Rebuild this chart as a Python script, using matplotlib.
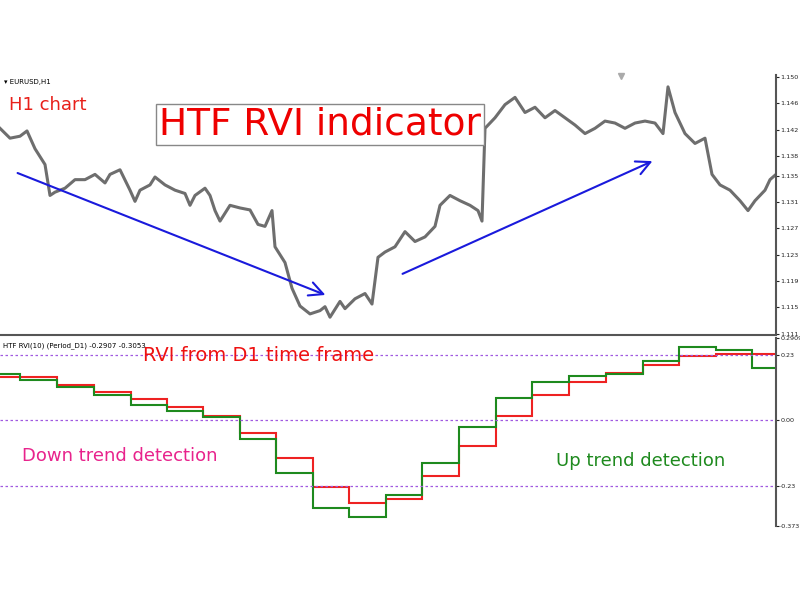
import matplotlib.pyplot as plt

# ---------------------------
# Data
# ---------------------------
bar = [0, 10, 20, 27, 35, 45, 50, 55, 65, 75, 85, 95, 105, 110, 120, 130, 135, 140, 150, 155,
       165, 175, 185, 190, 195, 205, 210, 215, 220, 230, 240, 250, 258, 265, 272, 275, 285, 292,
       300, 310, 320, 325, 330, 340, 345, 355, 365, 372, 378, 385, 395, 405, 415, 425, 435, 440,
       450, 460, 470, 478, 482, 485, 495, 505, 515, 525, 535, 545, 555, 565, 575, 585, 595, 605,
       615, 625, 635, 645, 655, 663, 668, 675, 685, 695, 705, 712, 720, 730, 740, 748, 755, 765,
       770, 776]
price = [1.1422, 1.1407, 1.1410, 1.1418, 1.1391, 1.1367, 1.1320, 1.1325, 1.1331, 1.1344, 1.1344,
         1.1352, 1.1339, 1.1352, 1.1359, 1.1328, 1.1311, 1.1328, 1.1336, 1.1348, 1.1336, 1.1328,
         1.1323, 1.1305, 1.1320, 1.1331, 1.1320, 1.1297, 1.1281, 1.1305, 1.1301, 1.1298, 1.1276,
         1.1273, 1.1297, 1.1242, 1.1218, 1.1179, 1.1152, 1.1140, 1.1145, 1.1151, 1.1135, 1.1159,
         1.1148, 1.1163, 1.1171, 1.1155, 1.1226, 1.1234, 1.1242, 1.1265, 1.1250, 1.1257, 1.1273,
         1.1305, 1.1320, 1.1312, 1.1305, 1.1297, 1.1281, 1.1422, 1.1438, 1.1458, 1.1469, 1.1446,
         1.1454, 1.1438, 1.1449, 1.1438, 1.1427, 1.1414, 1.1422, 1.1433, 1.1430, 1.1422, 1.1430,
         1.1433, 1.1430, 1.1414, 1.1485, 1.1446, 1.1414, 1.1399, 1.1407, 1.1352, 1.1336, 1.1328,
         1.1312, 1.1297, 1.1312, 1.1328, 1.1344, 1.1352]

# D1 step edges (in H1 bar units) and RVI values per step
step_edges = [0, 20, 57, 94, 131, 167, 203, 240, 276, 313, 349, 386, 422, 459, 496, 532, 569,
              606, 643, 679, 716, 752, 776]
rvi_red = [0.152, 0.152, 0.124, 0.099, 0.074, 0.046, 0.014, -0.046, -0.134, -0.234, -0.290,
           -0.276, -0.198, -0.092, 0.014, 0.088, 0.134, 0.166, 0.195, 0.226, 0.234, 0.234]
rvi_green = [0.163, 0.142, 0.117, 0.088, 0.053, 0.032, 0.011, -0.064, -0.184, -0.308, -0.340,
             -0.265, -0.149, -0.025, 0.078, 0.134, 0.156, 0.163, 0.209, 0.258, 0.248, 0.184]

price_ticks = [1.150, 1.146, 1.142, 1.138, 1.135, 1.131, 1.127, 1.123, 1.119, 1.115, 1.111]
rvi_ticks = [0.2909, 0.23, 0.00, -0.23, -0.373]
rvi_tick_labels = ["0.2909", "0.23", "0.00", "-0.23", "-0.373"]
levels = [0.23, 0.0, -0.23]

# ---------------------------
# Figure
# ---------------------------
fig = plt.figure(figsize=(8, 6), dpi=100)
fig.patch.set_facecolor("white")

ax1 = fig.add_axes([0.0, 0.4417, 0.97, 0.4333])
ax2 = fig.add_axes([0.0, 0.1233, 0.97, 0.3133])

for ax in (ax1, ax2):
    ax.set_xlim(0, 776)
    ax.set_xticks([])
    ax.yaxis.tick_right()
    ax.tick_params(axis="y", labelsize=4.6, length=2, pad=1, colors="#222222")
    for side in ("left", "top", "bottom"):
        ax.spines[side].set_visible(False)
    ax.spines["right"].set_color("#555555")
    ax.spines["right"].set_linewidth(1.5)

# price pane
ax1.plot(bar, price, color="#6e6e6e", lw=2.2)
ax1.set_ylim(1.1108, 1.1503)
ax1.set_yticks(price_ticks)
ax1.set_yticklabels([f"{t:.3f}" for t in price_ticks])
ax1.spines["bottom"].set_visible(True)
ax1.spines["bottom"].set_color("#555555")
ax1.spines["bottom"].set_linewidth(1.5)

ax1.text(0.005, 0.985, "\u25BE EURUSD,H1", transform=ax1.transAxes, fontsize=5, va="top")
ax1.text(0.012, 0.92, "H1 chart", transform=ax1.transAxes, fontsize=13, color="#e8201a", va="top")
ax1.text(0.205, 0.77, "HTF RVI indicator", transform=ax1.transAxes, fontsize=27, color="#ee0000",
         bbox=dict(facecolor="white", edgecolor="#888888", lw=1, pad=2))
ax1.plot([0.80], [0.995], marker="v", color="#aaaaaa", ms=5, transform=ax1.transAxes, clip_on=False)

arrow = dict(arrowstyle="->", color="#1a1adc", lw=1.5, mutation_scale=25)
ax1.annotate("", xy=(328 / 776, (335 - 296) / 260), xytext=(15 / 776, (335 - 172) / 260),
             xycoords="axes fraction", arrowprops=arrow)
ax1.annotate("", xy=(655 / 776, (335 - 160) / 260), xytext=(400 / 776, (335 - 275) / 260),
             xycoords="axes fraction", arrowprops=arrow)

# RVI pane
for lv in levels:
    ax2.axhline(lv, color="#a05ae0", lw=0.9, ls=(0, (2, 2)))
ax2.stairs(rvi_red, step_edges, color="#ee2222", lw=1.5, baseline=None)
ax2.stairs(rvi_green, step_edges, color="#1e8a1e", lw=1.5, baseline=None)
ax2.set_ylim(-0.373, 0.2909)
ax2.set_yticks(rvi_ticks)
ax2.set_yticklabels(rvi_tick_labels)

ax2.text(0.004, 0.975, "HTF RVI(10) (Period_D1) -0.2907 -0.3053", transform=ax2.transAxes,
         fontsize=5, va="top")
ax2.text(143 / 776, 0.905, "RVI from D1 time frame", transform=ax2.transAxes, fontsize=14,
         color="#ee1111", va="center")
ax2.text(22 / 776, 0.37, "Down trend detection", transform=ax2.transAxes, fontsize=13,
         color="#e8238c", va="center")
ax2.text(556 / 776, 0.345, "Up trend detection", transform=ax2.transAxes, fontsize=13,
         color="#1e8a1e", va="center")

fig.savefig("out.png", dpi=100, facecolor="white")
